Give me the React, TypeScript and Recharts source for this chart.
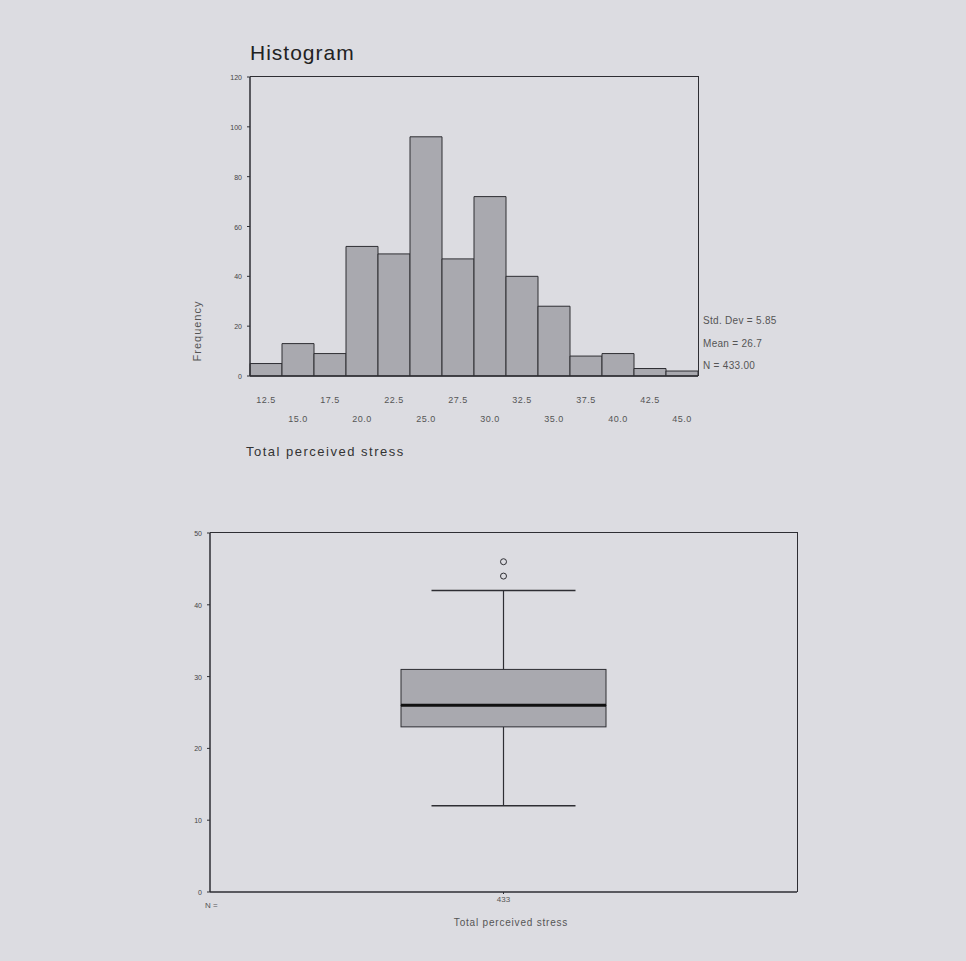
import {
  Bar,
  BarChart,
  ComposedChart,
  ReferenceDot,
  XAxis,
  YAxis,
} from "recharts";

// Histogram bins (midpoints) and counts
const binMids = ["12.5", "15.0", "17.5", "20.0", "22.5", "25.0", "27.5", "30.0", "32.5", "35.0", "37.5", "40.0", "42.5", "45.0"];
const binCounts = [5, 13, 9, 52, 49, 96, 47, 72, 40, 28, 8, 9, 3, 2];
const freqTicks = [0, 20, 40, 60, 80, 100, 120];
const histStats = ["Std. Dev = 5.85", "Mean = 26.7", "N = 433.00"];

// Boxplot summary
const boxGroup = "433";
const boxMin = 12;
const boxQ1 = 23;
const boxMedian = 26;
const boxQ3 = 31;
const boxMax = 42;
const outlierValues = [44, 46];
const boxTicks = [0, 10, 20, 30, 40, 50];

const histData = binMids.map((m, i) => ({ name: m, count: binCounts[i] }));

const boxData = [
  {
    name: boxGroup,
    base: boxMin,
    lowWhisker: boxQ1 - boxMin,
    lowBox: boxMedian - boxQ1,
    highBox: boxQ3 - boxMedian,
    highWhisker: boxMax - boxQ3,
  },
];

const INK = "#2e2e33";
const FILL = "#a9a9af";
const FONT = "'Liberation Sans', Arial, sans-serif";

function HistTick(props: any) {
  const { x, y, payload, index } = props;
  const dy = index % 2 === 0 ? 19 : 38;
  return (
    <text x={x} y={y + dy} textAnchor="middle" fontSize={9} fill="#555" fontFamily={FONT} letterSpacing={0.5}>
      {payload.value}
    </text>
  );
}

function SmallYTick(props: any) {
  const { x, y, payload } = props;
  return (
    <text x={x - 3} y={y + 3} textAnchor="end" fontSize={7} fill="#444" fontFamily={FONT}>
      {payload.value}
    </text>
  );
}

const CAP = 72;

function LowWhisker(props: any) {
  const { x, y, width, height } = props;
  const cx = x + width / 2;
  return (
    <g stroke={INK}>
      <line x1={cx} x2={cx} y1={y} y2={y + height} strokeWidth={1.2} />
      <line x1={cx - CAP} x2={cx + CAP} y1={y + height} y2={y + height} strokeWidth={1.5} />
    </g>
  );
}

function HighWhisker(props: any) {
  const { x, y, width, height } = props;
  const cx = x + width / 2;
  return (
    <g stroke={INK}>
      <line x1={cx} x2={cx} y1={y} y2={y + height} strokeWidth={1.2} />
      <line x1={cx - CAP} x2={cx + CAP} y1={y} y2={y} strokeWidth={1.5} />
    </g>
  );
}

function LowBox(props: any) {
  const { x, y, width, height } = props;
  return <rect x={x} y={y} width={width} height={height} fill={FILL} stroke={INK} strokeWidth={1} />;
}

function HighBox(props: any) {
  const { x, y, width, height } = props;
  return (
    <g>
      <rect x={x} y={y} width={width} height={height} fill={FILL} stroke={INK} strokeWidth={1} />
      <line x1={x} x2={x + width} y1={y + height} y2={y + height} stroke="#111" strokeWidth={3} />
    </g>
  );
}

const textStyle = { position: "absolute" as const, fontFamily: FONT, color: "#555", whiteSpace: "nowrap" as const };

// top and right edges of a plot frame (left/bottom come from the axes)
function Frame({ left, top, width, height }: { left: number; top: number; width: number; height: number }) {
  return (
    <div
      style={{
        position: "absolute",
        left,
        top: top - 0.75,
        width,
        height,
        borderTop: `1.5px solid ${INK}`,
        borderRight: `1.5px solid ${INK}`,
        boxSizing: "border-box",
        pointerEvents: "none",
      }}
    />
  );
}

export default function App() {
  return (
    <div style={{ position: "absolute", left: 0, top: 0, width: 966, height: 961, background: "#dcdce1", overflow: "hidden" }}>
      <div style={{ ...textStyle, left: 250, top: 41, fontSize: 21, color: "#222", letterSpacing: 1 }}>Histogram</div>

      <div style={{ position: "absolute", left: 0, top: 0 }}>
        <BarChart
          width={966}
          height={480}
          data={histData}
          barCategoryGap={0}
          margin={{ top: 77, right: 268, bottom: 74, left: 210 }}
        >
          <XAxis
            dataKey="name"
            height={30}
            axisLine={{ stroke: INK, strokeWidth: 1.5 }}
            tickLine={false}
            tick={<HistTick />}
            interval={0}
          />
          <YAxis
            domain={[0, 120]}
            ticks={freqTicks}
            width={40}
            tickSize={3}
            axisLine={{ stroke: INK, strokeWidth: 1.5 }}
            tickLine={{ stroke: INK }}
            tick={<SmallYTick />}
          />
          <Bar dataKey="count" fill={FILL} stroke={INK} strokeWidth={1} isAnimationActive={false} />
        </BarChart>
      </div>
      <Frame left={250} top={77} width={449} height={300} />

      <div style={{ ...textStyle, left: 197, top: 331, fontSize: 11, transform: "translate(-50%, -50%) rotate(-90deg)", letterSpacing: 1 }}>
        Frequency
      </div>
      {histStats.map((s, i) => (
        <div key={s} style={{ ...textStyle, left: 703, top: 315 + i * 22.5, fontSize: 10, letterSpacing: 0.3 }}>
          {s}
        </div>
      ))}
      <div style={{ ...textStyle, left: 246, top: 444, fontSize: 13, color: "#333", letterSpacing: 1.5 }}>Total perceived stress</div>

      <div style={{ position: "absolute", left: 0, top: 500 }}>
        <ComposedChart
          width={966}
          height={461}
          data={boxData}
          margin={{ top: 33, right: 169, bottom: 44, left: 180 }}
        >
          <XAxis
            dataKey="name"
            height={25}
            axisLine={{ stroke: INK, strokeWidth: 1.5 }}
            tickLine={{ stroke: INK }}
            tickSize={2}
            tick={{ fontSize: 8, fill: "#555", fontFamily: FONT }}
          />
          <YAxis
            domain={[0, 50]}
            ticks={boxTicks}
            width={30}
            tickSize={3}
            axisLine={{ stroke: INK, strokeWidth: 1.5 }}
            tickLine={{ stroke: INK }}
            tick={<SmallYTick />}
          />
          <Bar dataKey="base" stackId="box" fill="none" barSize={205} isAnimationActive={false} />
          <Bar dataKey="lowWhisker" stackId="box" barSize={205} shape={<LowWhisker />} isAnimationActive={false} />
          <Bar dataKey="lowBox" stackId="box" barSize={205} shape={<LowBox />} isAnimationActive={false} />
          <Bar dataKey="highBox" stackId="box" barSize={205} shape={<HighBox />} isAnimationActive={false} />
          <Bar dataKey="highWhisker" stackId="box" barSize={205} shape={<HighWhisker />} isAnimationActive={false} />
          {outlierValues.map((v) => (
            <ReferenceDot key={v} x={boxGroup} y={v} r={3} fill="none" stroke={INK} strokeWidth={1} />
          ))}
        </ComposedChart>
      </div>
      <Frame left={210} top={533} width={588} height={360} />

      <div style={{ ...textStyle, left: 205, top: 901, fontSize: 8 }}>N =</div>
      <div style={{ ...textStyle, left: 511, top: 917, fontSize: 10, transform: "translateX(-50%)", letterSpacing: 0.8 }}>
        Total perceived stress
      </div>
    </div>
  );
}
